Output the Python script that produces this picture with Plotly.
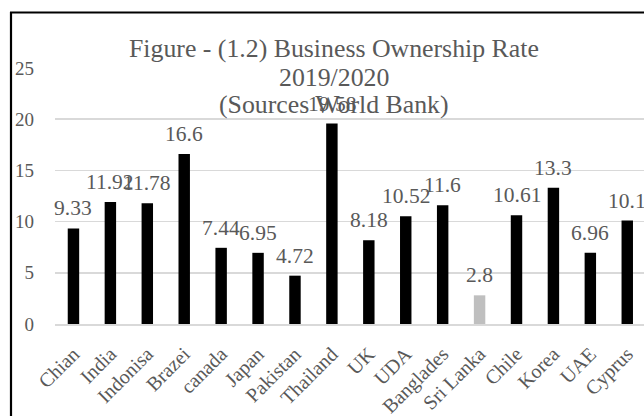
import plotly.graph_objects as go

countries = ["Chian", "India", "Indonisa", "Brazei", "canada", "Japan", "Pakistan",
             "Thailand", "UK", "UDA", "Banglades", "Sri Lanka", "Chile", "Korea", "UAE", "Cyprus"]
rates = [9.33, 11.92, 11.78, 16.6, 7.44, 6.95, 4.72, 19.58, 8.18, 10.52, 11.6, 2.8,
         10.61, 13.3, 6.96, 10.1]
highlight = "Sri Lanka"
title_lines = ["Figure - (1.2) Business Ownership Rate", "2019/2020", "(Sources World Bank)"]
y_ticks = [0, 5, 10, 15, 20, 25]

W, H = 644, 416
L, R, T, B = 55, 0, 68, 92
PW, PH = W - L - R, H - T - B

def px_x(p):
    return (p - L) / PW

def px_y(p):
    return (H - B - p) / PH

FONT = "Liberation Serif, Times New Roman, serif"
GRAY = "#595959"

colors = ["#bfbfbf" if c == highlight else "#000000" for c in countries]

fig = go.Figure()
fig.add_trace(go.Bar(x=countries, y=rates, marker=dict(color=colors, line=dict(width=0)),
                     showlegend=False, hoverinfo="skip"))

annotations = []
for c, v in zip(countries, rates):
    annotations.append(dict(x=c, y=v, xref="x", yref="y", text=f"{v:g}", showarrow=False,
                            yanchor="bottom", xanchor="center", yshift=6,
                            font=dict(family=FONT, size=21.5, color=GRAY)))

title_baselines = [58, 87, 114]
for txt, base in zip(title_lines, title_baselines):
    annotations.append(dict(x=px_x(334), y=px_y(base + 7), xref="paper", yref="paper",
                            text=txt, showarrow=False, xanchor="center", yanchor="bottom",
                            font=dict(family=FONT, size=25.8, color=GRAY)))

shapes = [
    dict(type="line", xref="paper", yref="paper", x0=px_x(11), x1=px_x(11),
         y0=px_y(12), y1=px_y(430), line=dict(color="#000000", width=2.2)),
    dict(type="line", xref="paper", yref="paper", x0=px_x(10), x1=px_x(700),
         y0=px_y(12.5), y1=px_y(12.5), line=dict(color="#000000", width=2.2)),
]

fig.update_layout(
    width=W, height=H,
    margin=dict(l=L, r=R, t=T, b=B, pad=0, autoexpand=False),
    paper_bgcolor="white", plot_bgcolor="white",
    bargap=0.69,
    annotations=annotations,
    shapes=shapes,
    hovermode=False,
    xaxis=dict(type="category", range=[-0.5, -0.5 + PW / 36.92], showgrid=False,
               showline=True, linecolor="#d9d9d9", linewidth=1.5, automargin=False,
               tickangle=-45, ticks="outside", ticklen=9, tickcolor="rgba(0,0,0,0)",
               tickfont=dict(family=FONT, size=20, color=GRAY)),
    yaxis=dict(range=[0, 25], tickvals=y_ticks, showgrid=True, gridcolor="#d9d9d9",
               gridwidth=1.5, zeroline=False, showline=False, ticks="", automargin=False,
               ticklabelstandoff=20,
               tickfont=dict(family=FONT, size=19, color=GRAY)),
)

fig.write_html("out.html", config={"displayModeBar": False, "staticPlot": True},
               post_script="document.body.style.margin='0px';document.body.style.overflow='hidden';")
